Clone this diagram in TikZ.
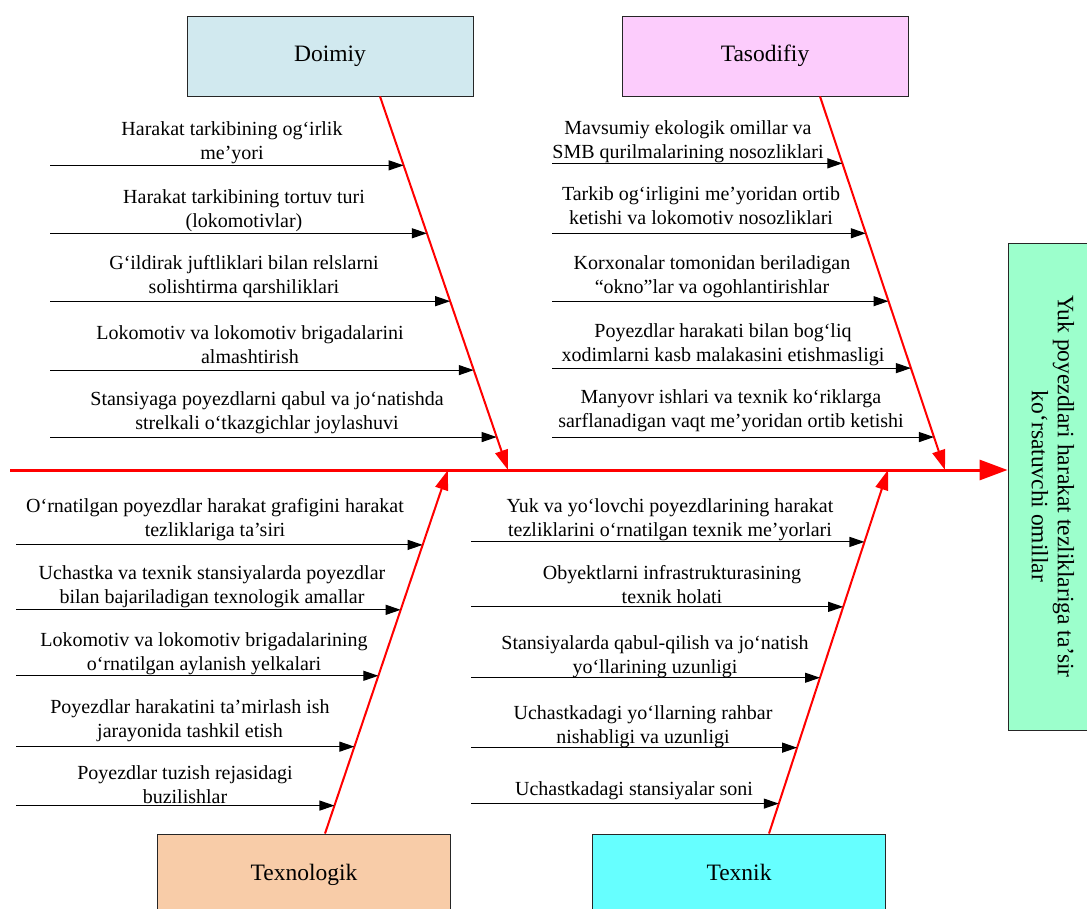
\documentclass[tikz,border=0pt]{standalone}
\usepackage{fontspec}
\setmainfont{Liberation Serif}
\usetikzlibrary{arrows.meta}
\definecolor{doimiyfill}{RGB}{209,233,239}
\definecolor{tasodfill}{RGB}{252,204,252}
\definecolor{texnologfill}{RGB}{248,204,168}
\definecolor{texnikfill}{RGB}{102,255,255}
\definecolor{resultfill}{RGB}{156,255,204}

\begin{document}
\begin{tikzpicture}[x=1pt,y=-1pt,
  catbox/.style={draw=black!85,line width=0.9pt,minimum width=286pt,minimum height=80pt,inner sep=0pt,text height=17pt,text depth=5pt,font=\fontsize{23.5}{26}\selectfont},
  resultbox/.style={draw=black!85,line width=0.9pt,inner sep=0pt,font=\fontsize{23.5}{26}\selectfont},
  factor/.style={align=center,inner sep=0pt,anchor=base,font=\fontsize{20}{24}\selectfont},
  sub/.style={-{Triangle[length=15pt,width=10pt]},line width=1.1pt},
  bone/.style={-{Triangle[length=20pt,width=13pt]},red,line width=2pt},
  spine/.style={-{Triangle[length=28pt,width=20pt]},red,line width=3pt}]
  \path[use as bounding box] (0,0) rectangle (1087,909);
  \clip (0,0) rectangle (1087,909);

  \node[catbox,fill=doimiyfill] (doimiy) at (330,56) {Doimiy};
  \node[catbox,fill=tasodfill] (tasodifiy) at (765,56) {Tasodifiy};
  \node[catbox,fill=texnologfill,minimum width=293pt] (texnologik) at (304,874) {Texnologik};
  \node[catbox,fill=texnikfill,minimum width=293pt] (texnik) at (739,874) {Texnik};
  \node[resultbox,fill=resultfill,rotate=-90,minimum width=487pt,minimum height=90pt,align=center] (result) at (1053,486.5) {Yuk poyezdlari harakat tezliklariga ta’sir\\ko‘rsatuvchi omillar};

  \coordinate (tail) at (10,470);
  \draw[spine] (tail) -- (tail -| result.south);

  \coordinate (dtip) at (508,470);
  \coordinate (ttip) at (945,470);
  \coordinate (ntip) at (448,470);
  \coordinate (ktip) at (888,470);
  \draw[bone] ([xshift=50pt]doimiy.south) -- (dtip)
    coordinate[pos=0.1845] (d1) coordinate[pos=0.3663] (d2) coordinate[pos=0.5481] (d3)
    coordinate[pos=0.7326] (d4) coordinate[pos=0.9118] (d5);
  \draw[bone] ([xshift=55pt]tasodifiy.south) -- (ttip)
    coordinate[pos=0.1791] (t1) coordinate[pos=0.3663] (t2) coordinate[pos=0.5481] (t3)
    coordinate[pos=0.7273] (t4) coordinate[pos=0.9118] (t5);
  \draw[bone] ([xshift=21pt]texnologik.north) -- (ntip)
    coordinate[pos=0.794] (n1) coordinate[pos=0.6154] (n2) coordinate[pos=0.434] (n3)
    coordinate[pos=0.239] (n4) coordinate[pos=0.0769] (n5);
  \draw[bone] ([xshift=30pt]texnik.north) -- (ktip)
    coordinate[pos=0.8022] (k1) coordinate[pos=0.6236] (k2) coordinate[pos=0.4286] (k3)
    coordinate[pos=0.2363] (k4) coordinate[pos=0.0824] (k5);

  \coordinate (dleft) at (50,0);
  \coordinate (tleft) at (552,0);
  \coordinate (nleft) at (16,0);
  \coordinate (kleft) at (471,0);
  \draw[sub] (d1 -| dleft) -- (d1);
  \draw[sub] (d2 -| dleft) -- (d2);
  \draw[sub] (d3 -| dleft) -- (d3);
  \draw[sub] (d4 -| dleft) -- (d4);
  \draw[sub] (d5 -| dleft) -- (d5);
  \draw[sub] (t1 -| tleft) -- (t1);
  \draw[sub] (t2 -| tleft) -- (t2);
  \draw[sub] (t3 -| tleft) -- (t3);
  \draw[sub] (t4 -| tleft) -- (t4);
  \draw[sub] (t5 -| tleft) -- (t5);
  \draw[sub] (n1 -| nleft) -- (n1);
  \draw[sub] (n2 -| nleft) -- (n2);
  \draw[sub] (n3 -| nleft) -- (n3);
  \draw[sub] (n4 -| nleft) -- (n4);
  \draw[sub] (n5 -| nleft) -- (n5);
  \draw[sub] (k1 -| kleft) -- (k1);
  \draw[sub] (k2 -| kleft) -- (k2);
  \draw[sub] (k3 -| kleft) -- (k3);
  \draw[sub] (k4 -| kleft) -- (k4);
  \draw[sub] (k5 -| kleft) -- (k5);

  \node[factor] (d1txt) at (232,160) {Harakat tarkibining og‘irlik\\me’yori};
  \node[factor] (d2txt) at (244,228) {Harakat tarkibining tortuv turi\\(lokomotivlar)};
  \node[factor] (d3txt) at (244,294) {G‘ildirak juftliklari bilan relslarni\\solishtirma qarshiliklari};
  \node[factor] (d4txt) at (250,363) {Lokomotiv va lokomotiv brigadalarini\\almashtirish};
  \node[factor] (d5txt) at (267,429) {Stansiyaga poyezdlarni qabul va jo‘natishda\\strelkali o‘tkazgichlar joylashuvi};

  \node[factor] (t1txt) at (688,159) {Mavsumiy ekologik omillar va\\SMB qurilmalarining nosozliklari};
  \node[factor] (t2txt) at (701,225) {Tarkib og‘irligini me’yoridan ortib\\ketishi va lokomotiv nosozliklari};
  \node[factor] (t3txt) at (712,294) {Korxonalar tomonidan beriladigan\\“okno”lar va ogohlantirishlar};
  \node[factor] (t4txt) at (723,361) {Poyezdlar harakati bilan bog‘liq\\xodimlarni kasb malakasini etishmasligi};
  \node[factor] (t5txt) at (731,427) {Manyovr ishlari va texnik ko‘riklarga\\sarflanadigan vaqt me’yoridan ortib ketishi};

  \node[factor] (n1txt) at (215,536) {O‘rnatilgan poyezdlar harakat grafigini harakat\\tezliklariga ta’siri};
  \node[factor] (n2txt) at (212,603) {Uchastka va texnik stansiyalarda poyezdlar\\bilan bajariladigan texnologik amallar};
  \node[factor] (n3txt) at (204,670) {Lokomotiv va lokomotiv brigadalarining\\o‘rnatilgan aylanish yelkalari};
  \node[factor] (n4txt) at (190,737) {Poyezdlar harakatini ta’mirlash ish\\jarayonida tashkil etish};
  \node[factor] (n5txt) at (185,803) {Poyezdlar tuzish rejasidagi\\buzilishlar};

  \node[factor] (k1txt) at (670,536) {Yuk va yo‘lovchi poyezdlarining harakat\\tezliklarini o‘rnatilgan texnik me’yorlari};
  \node[factor] (k2txt) at (672,603) {Obyektlarni infrastrukturasining\\texnik holati};
  \node[factor] (k3txt) at (655,673) {Stansiyalarda qabul-qilish va jo‘natish\\yo‘llarining uzunligi};
  \node[factor] (k4txt) at (643,743) {Uchastkadagi yo‘llarning rahbar\\nishabligi va uzunligi};
  \node[factor] (k5txt) at (634,795) {Uchastkadagi stansiyalar soni};
\end{tikzpicture}
\end{document}
